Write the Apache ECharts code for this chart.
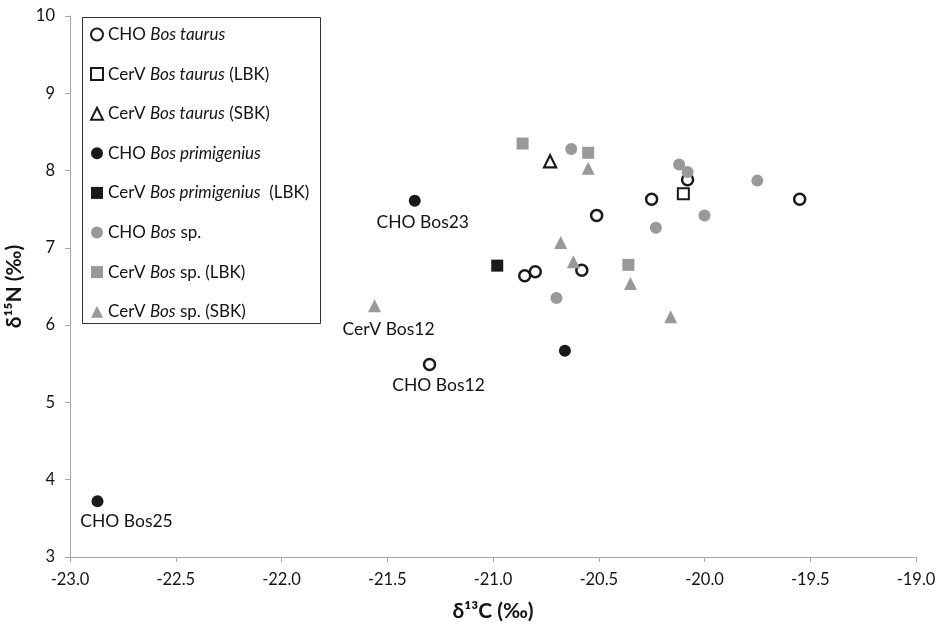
<!DOCTYPE html>
<html>
<head>
<meta charset="utf-8">
<script src="https://cdn.jsdelivr.net/npm/echarts@6/dist/echarts.min.js"></script>
<style>html,body{margin:0;padding:0;background:#fff;}#c{width:936px;height:624px;}</style>
</head>
<body>
<div id="c"></div>
<script>
// ---- data (δ13C, δ15N) ----
var xTicks = [-23.0, -22.5, -22.0, -21.5, -21.0, -20.5, -20.0, -19.5, -19.0];
var yTicks = [3, 4, 5, 6, 7, 8, 9, 10];

var choTaurus = [[-21.30, 5.49], [-20.85, 6.64], [-20.80, 6.69], [-20.58, 6.71], [-20.51, 7.42], [-20.25, 7.63], [-20.08, 7.88], [-19.55, 7.63]];
var cervTaurusLBK = [[-20.10, 7.70]];
var cervTaurusSBK = [[-20.73, 8.12]];
var choPrimigenius = [[-22.87, 3.72], [-21.37, 7.61], [-20.66, 5.67]];
var cervPrimigeniusLBK = [[-20.98, 6.77]];
var choSp = [[-20.63, 8.28], [-20.12, 8.08], [-20.08, 7.98], [-19.75, 7.87], [-20.00, 7.42], [-20.23, 7.26], [-20.70, 6.35]];
var cervSpLBK = [[-20.86, 8.35], [-20.55, 8.23], [-20.36, 6.78]];
var cervSpSBK = [[-20.55, 8.03], [-20.68, 7.07], [-20.62, 6.82], [-20.35, 6.54], [-20.16, 6.11], [-21.56, 6.25]];

var seriesNames = ['CHO Bos taurus', 'CerV Bos taurus (LBK)', 'CerV Bos taurus (SBK)', 'CHO Bos primigenius', 'CerV Bos primigenius (LBK)', 'CHO Bos sp.', 'CerV Bos sp. (LBK)', 'CerV Bos sp. (SBK)'];
var legendRich = {
  'CHO Bos taurus': 'CHO {i|Bos taurus}',
  'CerV Bos taurus (LBK)': 'CerV {i|Bos taurus} (LBK)',
  'CerV Bos taurus (SBK)': 'CerV {i|Bos taurus} (SBK)',
  'CHO Bos primigenius': 'CHO {i|Bos primigenius}',
  'CerV Bos primigenius (LBK)': 'CerV {i|Bos primigenius}  (LBK)',
  'CHO Bos sp.': 'CHO {i|Bos} sp.',
  'CerV Bos sp. (LBK)': 'CerV {i|Bos} sp. (LBK)',
  'CerV Bos sp. (SBK)': 'CerV {i|Bos} sp. (SBK)'
};
// point annotations: [series index, point index, text]
var pointLabels = [[0, 0, 'CHO Bos12'], [3, 0, 'CHO Bos25'], [3, 1, 'CHO Bos23'], [7, 5, 'CerV Bos12']];

// ---- styling ----
var FONT = 'Lato, "Open Sans", sans-serif';
var TEXT = '#141414';
var BLACK = '#1a1a1a', GRAY = '#999999';
var labelOffsets = { 'CHO Bos12': [9, 3], 'CHO Bos25': [29, 3], 'CHO Bos23': [8, 5], 'CerV Bos12': [14, 6] };

var seriesData = [choTaurus, cervTaurusLBK, cervTaurusSBK, choPrimigenius, cervPrimigeniusLBK, choSp, cervSpLBK, cervSpSBK];
var styles = [
  { symbol: 'circle', size: 11, item: { color: '#fff', borderColor: BLACK, borderWidth: 2.5, opacity: 1 } },
  { symbol: 'rect', size: 11, item: { color: '#fff', borderColor: BLACK, borderWidth: 2, opacity: 1 } },
  { symbol: 'triangle', size: 12, item: { color: '#fff', borderColor: BLACK, borderWidth: 2.2, opacity: 1 } },
  { symbol: 'circle', size: 12, item: { color: BLACK, opacity: 1 } },
  { symbol: 'rect', size: 12, item: { color: BLACK, opacity: 1 } },
  { symbol: 'circle', size: 12, item: { color: GRAY, opacity: 1 } },
  { symbol: 'rect', size: 12, item: { color: GRAY, opacity: 1 } },
  { symbol: 'triangle', size: 13, item: { color: GRAY, opacity: 1 } }
];

var series = seriesData.map(function (pts, si) {
  var data = pts.map(function (p, pi) {
    var d = { value: p };
    pointLabels.forEach(function (l) {
      if (l[0] === si && l[1] === pi) {
        d.label = { show: true, formatter: l[2], position: 'bottom', distance: 2, offset: labelOffsets[l[2]],
          fontSize: 17.5, color: TEXT, fontFamily: FONT };
      }
    });
    return d;
  });
  return {
    name: seriesNames[si], type: 'scatter', data: data,
    symbol: styles[si].symbol, symbolSize: styles[si].size,
    itemStyle: styles[si].item,
    emphasis: { disabled: true }
  };
});

var chart = echarts.init(document.getElementById('c'));
chart.setOption({
  animation: false,
  backgroundColor: '#fff',
  grid: { left: 70, right: 20, top: 16, bottom: 67, containLabel: false, outerBoundsMode: 'none' },
  xAxis: {
    type: 'value', min: xTicks[0], max: xTicks[xTicks.length - 1], interval: 0.5,
    name: 'δ¹³C (‰)', nameLocation: 'middle', nameGap: 44,
    nameTextStyle: { fontSize: 21, fontWeight: 'bold', color: TEXT, fontFamily: FONT },
    axisLine: { onZero: false, lineStyle: { color: '#a6a6a6', width: 1 } },
    axisTick: { show: true, inside: false, length: 5, lineStyle: { color: '#a6a6a6' } },
    axisLabel: { margin: 14, fontSize: 16.5, color: TEXT, fontFamily: FONT, formatter: function (v) { return v.toFixed(1); } },
    splitLine: { show: false }
  },
  yAxis: {
    type: 'value', min: yTicks[0], max: yTicks[yTicks.length - 1], interval: 1,
    name: 'δ¹⁵N (‰)', nameLocation: 'middle', nameGap: 42, nameRotate: 90,
    nameTextStyle: { fontSize: 21, fontWeight: 'bold', color: TEXT, fontFamily: FONT },
    axisLine: { show: true, onZero: false, lineStyle: { color: '#a6a6a6', width: 1 } },
    axisTick: { show: true, inside: false, length: 5, lineStyle: { color: '#a6a6a6' } },
    axisLabel: { margin: 15, fontSize: 16.5, color: TEXT, fontFamily: FONT },
    splitLine: { show: false }
  },
  legend: {
    orient: 'vertical', left: 80, top: 15, padding: [9.5, 10, 9, 10],
    itemWidth: 12, itemHeight: 12, itemGap: 19.6,
    selectedMode: false,
    data: seriesNames,
    formatter: function (n) { return legendRich[n]; },
    textStyle: { fontSize: 17, color: TEXT, fontFamily: FONT, lineHeight: 20, padding: [0, 0, 0, 0],
      rich: { i: { fontStyle: 'italic', fontSize: 17, color: TEXT, fontFamily: FONT, lineHeight: 20 } } }
  },
  graphic: [{
    type: 'rect', left: 80, top: 15, z: 100,
    shape: { x: 0, y: 0, width: 238, height: 306 },
    style: { fill: 'none', stroke: '#333', lineWidth: 1 }
  }],
  series: series
});
</script>
</body>
</html>
